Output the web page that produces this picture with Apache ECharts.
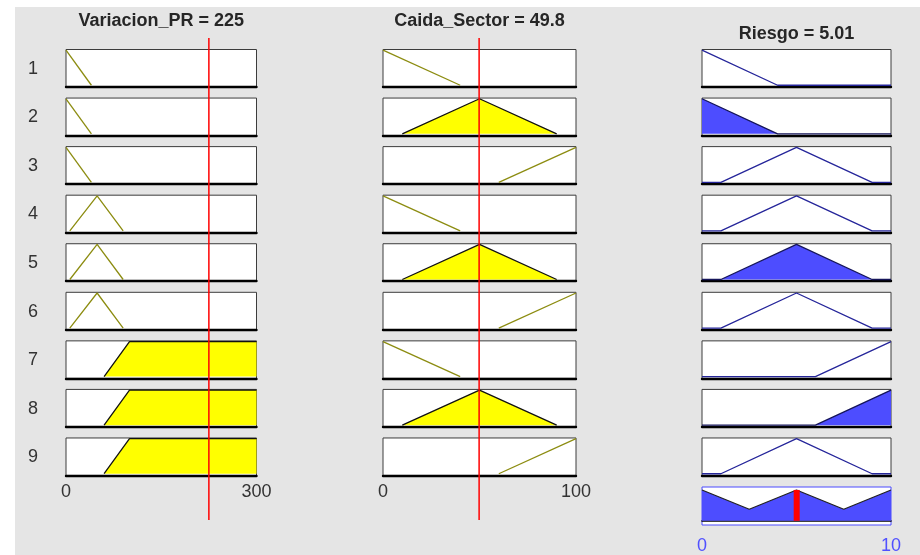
<!DOCTYPE html>
<html><head><meta charset="utf-8">
<script src="https://cdn.jsdelivr.net/npm/echarts@6/dist/echarts.min.js"></script>
<style>html,body{margin:0;padding:0;background:#fff}#c{width:920px;height:555px}</style>
</head><body><div id="c"></div>
<script>
// ---------------- data ----------------
const ruleNumbers = [1, 2, 3, 4, 5, 6, 7, 8, 9];
const inputNames = ['Variacion_PR', 'Caida_Sector'];
const outputName = 'Riesgo';
const inputValues = [225, 49.8];
const outputValue = 5.01;
const rangePR = [0, 300];
const rangeCS = [0, 100];
const rangeRiesgo = [0, 10];
const tickLabelsPR = ['0', '300'];
const tickLabelsCS = ['0', '100'];
const tickLabelsRiesgo = ['0', '10'];
// membership functions (x, degree)
const prLow = [[0, 1], [40, 0]];
const prMid = [[6, 0], [49, 1], [90, 0]];
const prHigh = [[60, 0], [100, 1], [300, 1]];
const csLow = [[0, 1], [40, 0]];
const csMid = [[10, 0], [50, 1], [90, 0]];
const csHigh = [[60, 0], [100, 1]];
const rLow = [[0, 1], [4, 0], [10, 0]];
const rMid = [[0, 0], [1, 0], [5, 1], [9, 0], [10, 0]];
const rHigh = [[0, 0], [6, 0], [10, 1]];
// rules
const rulePR = ['low', 'low', 'low', 'mid', 'mid', 'mid', 'high', 'high', 'high'];
const ruleCS = ['low', 'mid', 'high', 'low', 'mid', 'high', 'low', 'mid', 'high'];
const ruleRiesgo = ['low', 'low', 'mid', 'mid', 'mid', 'mid', 'high', 'high', 'mid'];
const ruleOutputFired = [0, 1, 0, 0, 1, 0, 0, 1, 0];
// aggregated output
const aggregate = [[0, 1], [2.5, 0.375], [5, 1], [7.5, 0.375], [10, 1]];

// ---------------- layout / style ----------------
const prMF = {low: prLow, mid: prMid, high: prHigh};
const csMF = {low: csLow, mid: csMid, high: csHigh};
const rMF = {low: rLow, mid: rMid, high: rHigh};
const cols = [
  {left: 66, width: 190.5, range: rangePR, ticks: tickLabelsPR},
  {left: 383, width: 193, range: rangeCS, ticks: tickLabelsCS},
  {left: 702, width: 189, range: rangeRiesgo, ticks: tickLabelsRiesgo}
];
const ROW_TOP = 49.5, ROW_STEP = 48.56, ROW_H = 37.5;
const AGG_TOP = 487, AGG_H = 39;
const FONT = '"Liberation Sans", Arial, Helvetica, sans-serif';

function membership(pts, x) {
  for (let k = 0; k < pts.length - 1; k++) {
    const [x0, y0] = pts[k], [x1, y1] = pts[k + 1];
    if (x >= x0 && x <= x1) return x1 === x0 ? Math.max(y0, y1) : y0 + (y1 - y0) * (x - x0) / (x1 - x0);
  }
  return 0;
}

const grid = [], xAxis = [], yAxis = [], series = [], graphic = [];

graphic.push({type: 'rect', left: 15, top: 7, shape: {width: 905, height: 548}, style: {fill: '#e5e5e5'}, z: -10, silent: true});

function addCell(c, top, height, opts) {
  const gi = grid.length;
  const col = cols[c];
  grid.push({left: col.left, top: top, width: col.width, height: height, show: true,
    backgroundColor: '#ffffff', borderColor: opts.border || '#3c3c3c', borderWidth: 1, containLabel: false});
  xAxis.push({type: 'value', gridIndex: gi, min: col.range[0], max: col.range[1],
    interval: col.range[1] - col.range[0],
    axisLine: {show: true, onZero: !!opts.onZero, lineStyle: {color: '#000', width: opts.axisWidth || 2.4}},
    axisTick: {show: false}, splitLine: {show: false},
    axisLabel: {show: !!opts.labels, margin: opts.labelMargin || 8, fontSize: 18, fontFamily: FONT,
      color: opts.labelColor || '#333', formatter: (v) => v === col.range[0] ? col.ticks[0] : col.ticks[1]}});
  yAxis.push({type: 'value', gridIndex: gi, min: opts.ymin, max: opts.ymax, show: false,
    splitLine: {show: false}});
  return gi;
}

for (let i = 0; i < ruleNumbers.length; i++) {
  const top = ROW_TOP + i * ROW_STEP;
  // input columns
  [[prMF[rulePR[i]], inputValues[0]], [csMF[ruleCS[i]], inputValues[1]]].forEach(([pts, val], c) => {
    const gi = addCell(c, top, ROW_H, {ymin: -0.05, ymax: 1.02, labels: i === ruleNumbers.length - 1});
    const fired = membership(pts, val) > 0;
    series.push({type: 'line', xAxisIndex: gi, yAxisIndex: gi, data: pts, symbol: 'none', silent: true,
      lineStyle: {color: fired ? '#111' : '#8c8c10', width: 1.3},
      areaStyle: fired ? {color: '#ffff00', opacity: 1, origin: 0} : null, z: 3});
  });
  // output column
  const gi = addCell(2, top, ROW_H, {ymin: -0.05, ymax: 1.02});
  const fired = ruleOutputFired[i] > 0;
  series.push({type: 'line', xAxisIndex: gi, yAxisIndex: gi, data: rMF[ruleRiesgo[i]], symbol: 'none', silent: true,
    lineStyle: {color: fired ? '#15155a' : '#25259a', width: 1.3},
    areaStyle: fired ? {color: '#4d4dff', opacity: 1, origin: 0} : null, z: 3});
  // rule number
  graphic.push({type: 'text', x: 33, y: top + ROW_H / 2 + 0.5, silent: true,
    style: {text: String(ruleNumbers[i]), fill: '#333', font: '18px ' + FONT, align: 'center', verticalAlign: 'middle'}});
}

// aggregated output
const ga = addCell(2, AGG_TOP, AGG_H, {ymin: -0.136, ymax: 1.095, labels: true, onZero: true, axisWidth: 1.6,
  border: '#4a4aff', labelColor: '#5050ff', labelMargin: 12});
series.push({type: 'line', xAxisIndex: ga, yAxisIndex: ga, data: aggregate, symbol: 'none', silent: true,
  lineStyle: {color: '#222', width: 1.2}, areaStyle: {color: '#4d4dff', opacity: 1, origin: 0}, z: 3});
series.push({type: 'line', xAxisIndex: ga, yAxisIndex: ga, data: [[outputValue, 0], [outputValue, 1]], symbol: 'none',
  silent: true, lineStyle: {color: '#ff0000', width: 6, cap: 'butt'}, z: 6});

// red input lines across columns
[0, 1].forEach((c) => {
  const gi = grid.length;
  grid.push({left: cols[c].left, top: 38, width: cols[c].width, height: 482, show: false});
  xAxis.push({type: 'value', gridIndex: gi, min: cols[c].range[0], max: cols[c].range[1], show: false});
  yAxis.push({type: 'value', gridIndex: gi, min: 0, max: 1, show: false});
  series.push({type: 'line', xAxisIndex: gi, yAxisIndex: gi, data: [[inputValues[c], 0], [inputValues[c], 1]],
    symbol: 'none', silent: true, lineStyle: {color: '#ff0000', width: 1.5}, z: 10});
});

// titles
graphic.push({type: 'text', x: cols[0].left + cols[0].width / 2, y: 21.5, silent: true,
  style: {text: inputNames[0] + ' = ' + inputValues[0], fill: '#262626', font: 'bold 18px ' + FONT, align: 'center', verticalAlign: 'middle'}});
graphic.push({type: 'text', x: cols[1].left + cols[1].width / 2, y: 21.5, silent: true,
  style: {text: inputNames[1] + ' = ' + inputValues[1], fill: '#262626', font: 'bold 18px ' + FONT, align: 'center', verticalAlign: 'middle'}});
graphic.push({type: 'text', x: cols[2].left + cols[2].width / 2, y: 34, silent: true,
  style: {text: outputName + ' = ' + outputValue, fill: '#262626', font: 'bold 18px ' + FONT, align: 'center', verticalAlign: 'middle'}});

const chart = echarts.init(document.getElementById('c'), null, {renderer: 'canvas'});
chart.setOption({backgroundColor: '#ffffff', animation: false, grid, xAxis, yAxis, series, graphic});
</script></body></html>
